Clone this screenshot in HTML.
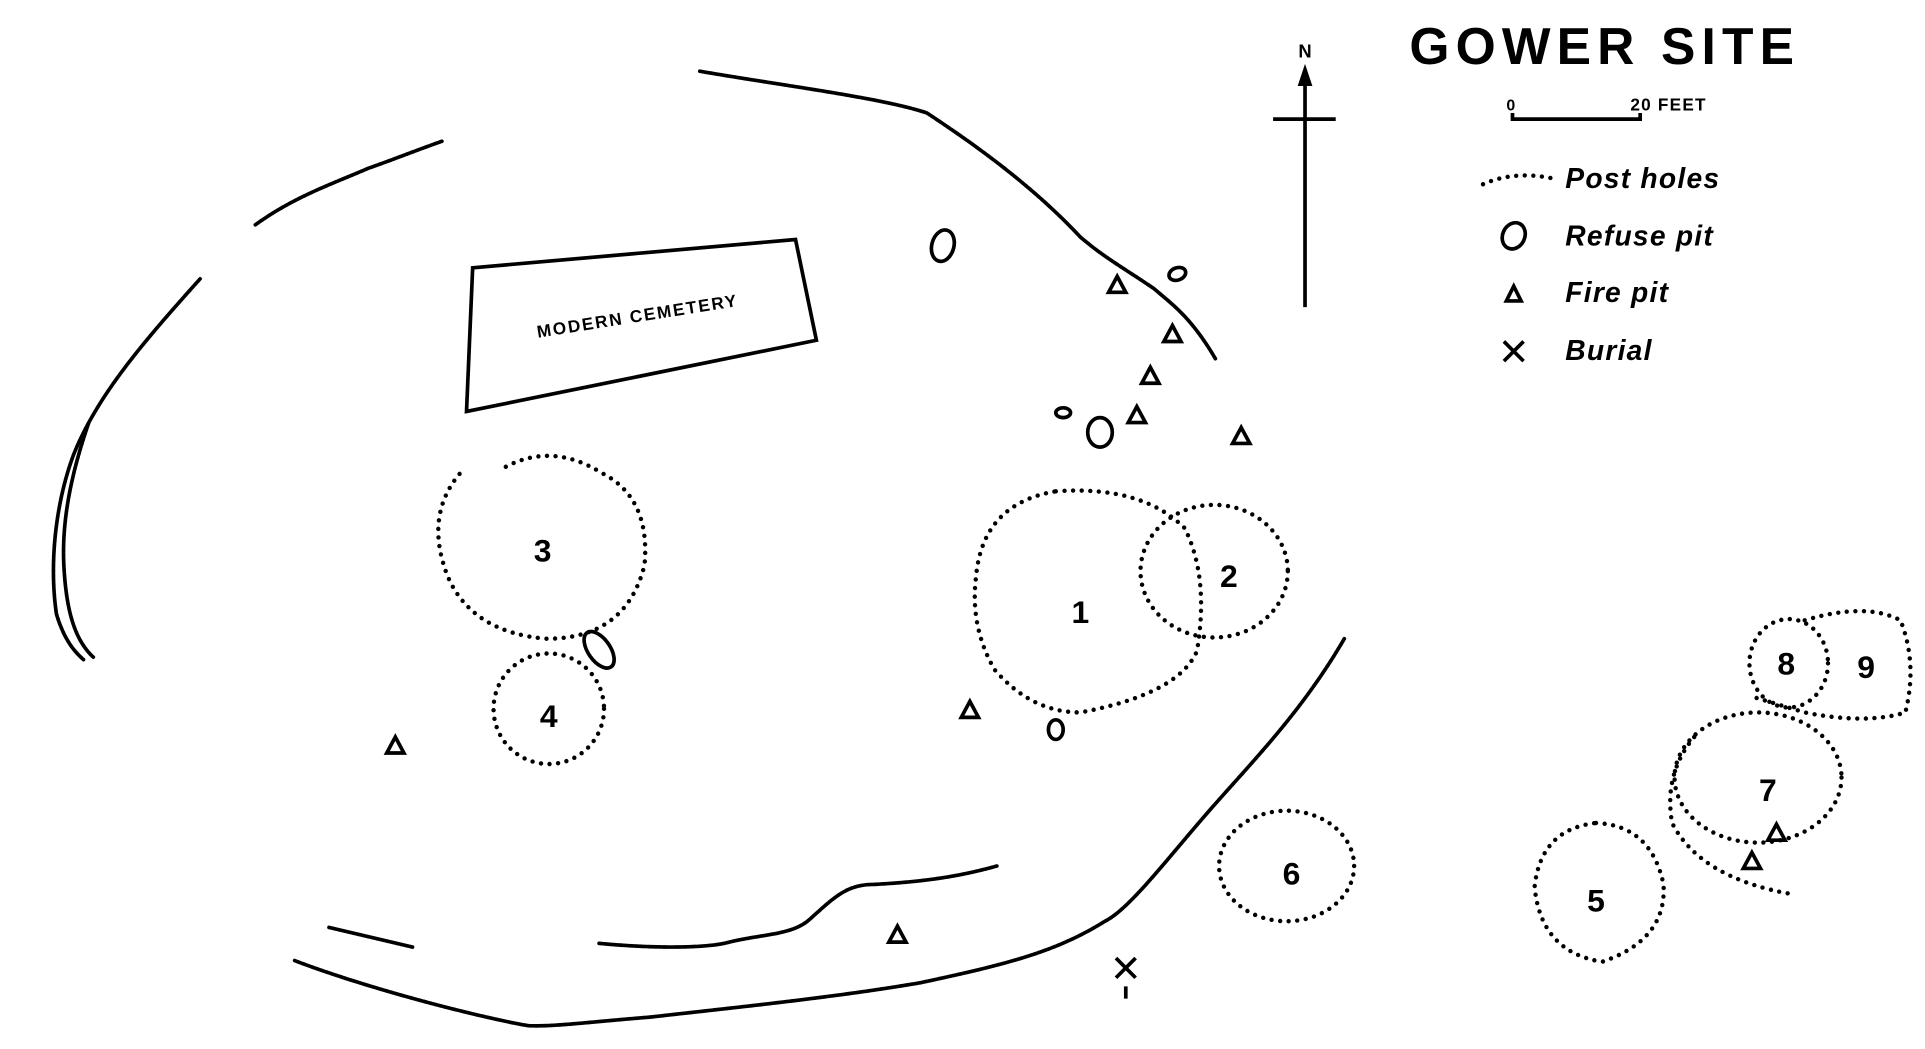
<!DOCTYPE html>
<html><head><meta charset="utf-8"><style>
html,body{margin:0;padding:0;background:#fff;width:1925px;height:1049px;overflow:hidden}
svg{display:block}
text{font-family:"Liberation Sans",sans-serif;fill:#000}
.w{fill:none;stroke:#000;stroke-width:3;stroke-linecap:round;stroke-linejoin:round;stroke-dasharray:3 1}
.d{fill:none;stroke:#000;stroke-width:3.6;stroke-linecap:round;stroke-dasharray:0 7}
.s{fill:none;stroke:#000;stroke-width:3}
.n{font-weight:bold;font-size:26px;text-anchor:middle}
.l{font-style:italic;font-weight:bold;font-size:23px;letter-spacing:1px}
</style></head><body>
<svg width="1925" height="1049" viewBox="0 0 1568 854" preserveAspectRatio="none">
<text x="1148" y="52" font-size="42" font-weight="bold" letter-spacing="5">GOWER SITE</text>
<text x="1227" y="90" font-size="13" font-weight="bold">0</text>
<text x="1328" y="90" font-size="14" font-weight="bold" letter-spacing="1">20 FEET</text>
<path class="s" d="M1232 92 V97 H1336 V92" stroke-width="2.5"/>
<path class="d" d="M1208 150 Q1235 138 1268 146" stroke-width="2.5" stroke-dasharray="0 5"/>
<text x="1275" y="153" class="l">Post holes</text>
<ellipse cx="1233" cy="192" rx="9" ry="11" transform="rotate(25 1233 192)" class="s"/>
<text x="1275" y="200" class="l">Refuse pit</text>
<path d="M1233 233 L1239 245 L1227 245 Z" class="s" stroke-width="3"/>
<text x="1275" y="246" class="l">Fire pit</text>
<path d="M1225 278 L1241 294 M1241 278 L1225 294" class="s"/>
<text x="1275" y="293" class="l">Burial</text>
<text x="1063" y="47" font-size="15" font-weight="bold" text-anchor="middle">N</text>
<path d="M1063 250 V58 M1037 97 H1088" class="s"/>
<path d="M1063 52 L1069 70 L1057 70 Z" fill="#000"/>
<path class="w" d="M570 58 C640 70 720 80 755 92 C790 115 840 150 880 193 C900 210 915 218 940 235 C955 248 970 258 990 292"/>
<path class="w" d="M208 183 C240 160 270 150 300 137 C320 130 340 122 360 115"/>
<path class="w" d="M163 227 C120 275 80 320 60 370 C45 410 40 460 46 500 C52 520 60 530 68 537"/>
<path class="w" d="M72 345 C60 380 50 420 52 460 C54 500 62 522 76 535"/>
<path class="w" d="M1095 520 C1060 580 1020 620 985 660 C950 700 920 740 900 750 C860 775 820 785 750 800 C680 812 600 820 530 828 C480 832 450 836 430 835 C390 828 300 805 240 782"/>
<path class="w" d="M488 768 C530 772 570 772 590 768 C620 760 645 762 660 748 C680 730 690 720 712 720 C750 718 780 714 812 705"/>
<path class="w" d="M268 755 L336 771"/>
<path d="M385 218 L648 195 L665 277 L380 335 Z" class="s"/>
<text x="520" y="262" font-size="14" font-weight="bold" text-anchor="middle" letter-spacing="1.5" transform="rotate(-9 520 262)">MODERN CEMETERY</text>
<ellipse cx="768" cy="200" rx="9" ry="13" transform="rotate(15 768 200)" class="s"/>
<ellipse cx="959" cy="223" rx="7" ry="5" transform="rotate(-20 959 223)" class="s"/>
<ellipse cx="866" cy="336" rx="6" ry="4" class="s"/>
<ellipse cx="896" cy="352" rx="10" ry="12" class="s"/>
<ellipse cx="488" cy="529" rx="9" ry="17" transform="rotate(-35 488 529)" class="s"/>
<ellipse cx="860" cy="594" rx="6" ry="8" class="s"/>
<g class="s" stroke-width="3">
<path d="M910 225 L917 238 L903 238 Z"/><path d="M955 265 L962 278 L948 278 Z"/>
<path d="M937 299 L944 312 L930 312 Z"/><path d="M926 331 L933 344 L919 344 Z"/>
<path d="M1011 348 L1018 361 L1004 361 Z"/><path d="M790 571 L797 584 L783 584 Z"/>
<path d="M322 600 L329 613 L315 613 Z"/><path d="M731 754 L738 767 L724 767 Z"/>
<path d="M1447 671 L1454 684 L1440 684 Z"/><path d="M1427 694 L1434 707 L1420 707 Z"/>
</g>
<path d="M909 780 L925 796 M925 780 L909 796 M917 803 V813" class="s"/>
<path class="d" d="M395 368 M412 380 Q450 360 490 385 Q530 405 525 460 Q510 520 445 520 Q385 515 365 470 Q345 420 375 385"/>
<circle cx="447" cy="577" r="45" class="d"/>
<path class="d" d="M860 400 Q930 395 965 430 Q985 470 975 530 Q960 565 880 580 Q840 580 810 545 Q790 510 795 470 Q800 410 860 400 Z"/>
<ellipse cx="989" cy="465" rx="60" ry="54" class="d"/>
<ellipse cx="1048" cy="705" rx="55" ry="45" class="d"/>
<path class="d" d="M1300 670 Q1345 672 1355 720 Q1358 765 1305 783 Q1255 775 1250 722 Q1255 675 1300 670 Z"/>
<ellipse cx="1432" cy="633" rx="68" ry="53" class="d"/>
<path class="d" d="M1380 600 Q1355 630 1362 670 Q1385 715 1460 728"/>
<ellipse cx="1457" cy="540" rx="32" ry="36" class="d"/>
<path class="d" d="M1470 505 Q1520 490 1548 505 Q1562 540 1552 580 Q1520 590 1470 580 L1430 568"/>
<text x="442" y="457" class="n">3</text>
<text x="447" y="592" class="n">4</text>
<text x="880" y="507" class="n">1</text>
<text x="1001" y="478" class="n">2</text>
<text x="1052" y="720" class="n">6</text>
<text x="1300" y="742" class="n">5</text>
<text x="1440" y="652" class="n">7</text>
<text x="1455" y="549" class="n">8</text>
<text x="1520" y="552" class="n">9</text>
</svg>
</body></html>
